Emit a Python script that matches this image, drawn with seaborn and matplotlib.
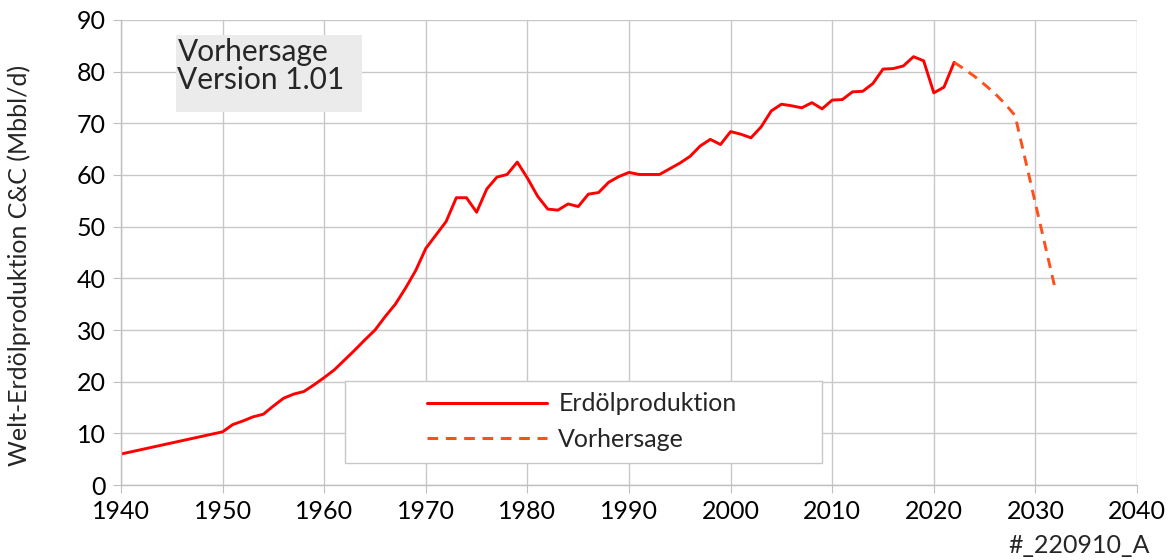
import matplotlib
matplotlib.use("Agg")
import matplotlib.pyplot as plt
from matplotlib.patches import Rectangle
import seaborn as sns
import pandas as pd

# Historical production (Mbbl/d)
years = [1940] + list(range(1950, 2023))
production = [6.0,
              10.3, 11.7, 12.4, 13.2, 13.7, 15.3, 16.8, 17.6, 18.1, 19.4,
              20.8, 22.3, 24.2, 26.1, 28.1, 30.0, 32.6, 35.0, 38.1, 41.5,
              45.8, 48.4, 51.0, 55.6, 55.6, 52.8, 57.3, 59.6, 60.1, 62.5,
              59.4, 55.9, 53.4, 53.2, 54.4, 53.9, 56.3, 56.6, 58.6, 59.7,
              60.5, 60.1, 60.1, 60.1, 61.2, 62.3, 63.6, 65.6, 66.9, 65.9,
              68.4, 67.9, 67.2, 69.3, 72.4, 73.7, 73.4, 73.0, 74.0, 72.8,
              74.5, 74.6, 76.1, 76.2, 77.7, 80.5, 80.6, 81.1, 82.9, 82.1,
              75.9, 77.0, 81.8]

# Forecast
fc_years = list(range(2022, 2033))
forecast = [81.8, 80.5, 79.1, 77.5, 75.8, 73.8, 71.5, 63.0, 54.5, 46.0, 37.5]

hist = pd.DataFrame({"year": years, "value": production})
fc = pd.DataFrame({"year": fc_years, "value": forecast})

sns.set_style("whitegrid")
plt.rcParams['font.family'] = ['Lato', 'DejaVu Sans']
FS = 18

fig, ax = plt.subplots(figsize=(11.74, 5.6), dpi=100)
fig.subplots_adjust(left=0.1031, right=0.9685, top=0.9643, bottom=0.1339)

sns.lineplot(data=hist, x="year", y="value", ax=ax, color="#FF0000",
             linewidth=2.1, label="Erdölproduktion")
sns.lineplot(data=fc, x="year", y="value", ax=ax, color="#FF4F1A",
             linewidth=2.1, linestyle="--", label="Vorhersage")
ax.lines[-1].set_dashes((3.5, 2.5))

ax.set_xlim(1940, 2040)
ax.set_ylim(0, 90)
ax.set_xticks(range(1940, 2041, 10))
ax.set_yticks(range(0, 91, 10))
ax.grid(True, color="#C8C8C8", linewidth=1.0)
for side in ["top", "right"]:
    ax.spines[side].set_visible(False)
for side in ["left", "bottom"]:
    ax.spines[side].set_color("#BFBFBF")
    ax.spines[side].set_linewidth(1.0)
ax.tick_params(axis="both", which="major", labelsize=FS, length=6,
               color="#BFBFBF", direction="out", pad=5, left=True, bottom=True,
               labelcolor="black")
ax.set_xlabel("")
ax.set_ylabel("Welt-Erdölproduktion C&C (Mbbl/d)", fontsize=FS)
ax.yaxis.set_label_coords(-0.0886, 0.473)

# version box
ax.add_patch(Rectangle((0.0541, 0.802), 0.1831, 0.166, transform=ax.transAxes,
                       facecolor="#EBEBEB", edgecolor="none", zorder=3))
ax.text(0.0555, 0.962, "Vorhersage\nVersion 1.01", transform=ax.transAxes,
        fontsize=21.5, va="top", ha="left", linespacing=1.0, zorder=4)

# legend with a separate frame
ax.add_patch(Rectangle((0.2205, 0.0473), 0.4695, 0.1764, transform=ax.transAxes,
                       facecolor="white", edgecolor="#C8C8C8", linewidth=1.0,
                       zorder=3))
leg = ax.legend(loc="upper left", bbox_to_anchor=(0.3012, 0.199),
                fontsize=FS, frameon=False, handlelength=4.8,
                handletextpad=0.45, borderpad=0, borderaxespad=0,
                labelspacing=0.5)
leg.set_zorder(5)
for line in leg.get_lines():
    line.set_linewidth(2.2)

fig.text(0.9796, 0.006, "#_220910_A", ha="right", va="bottom", fontsize=FS)

fig.savefig("out.png", dpi=100)
